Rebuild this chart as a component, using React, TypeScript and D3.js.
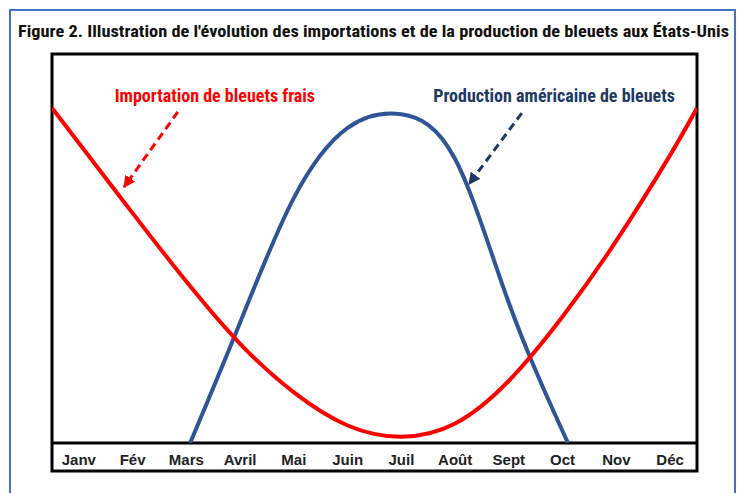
import * as d3 from "d3";

// Month labels along the bottom band
const months = ["Janv", "Fév", "Mars", "Avril", "Mai", "Juin", "Juil", "Août", "Sept", "Oct", "Nov", "Déc"];

// Imports of fresh blueberries (month position, relative level)
const importMonths = [-0.5, 0, 1, 2, 3, 4, 5, 6, 7, 8, 9, 10, 11, 11.5];
const importValues = [86.1, 77.1, 59.1, 41.5, 25.5, 13, 4.5, 1.6, 5, 16, 32.5, 52, 74, 86.1];

// US blueberry production
const prodMonths = [2.07, 3, 4, 5, 6, 7, 8, 9.1];
const prodValues = [0, 31, 63, 81, 84.5, 73, 36, 0];

const title =
  "Figure 2. Illustration de l'évolution des importations et de la production de bleuets aux États-Unis";

const W = 744;
const H = 493;
const plot = { left: 52, right: 697, top: 54, axis: 443, bottom: 471 };

const narrow = "'Liberation Sans Narrow', 'Arial Narrow', 'Roboto Condensed', 'Liberation Sans', sans-serif";
const RED = "#ff0000";
const BLUE = "#2f5597";
const NAVY = "#1f3864";

export default function App() {
  const x = d3.scaleLinear().domain([-0.5, 11.5]).range([plot.left, plot.right]);
  const y = d3.scaleLinear().domain([0, 100]).range([plot.axis, plot.top]);

  const line = d3
    .line<[number, number]>()
    .x((d) => x(d[0]))
    .y((d) => y(d[1]))
    .curve(d3.curveNatural);

  const importPts = importMonths.map((m, i) => [m, importValues[i]] as [number, number]);
  const prodPts = prodMonths.map((m, i) => [m, prodValues[i]] as [number, number]);

  // annotation arrows in chart units: [from, to]
  const redArrow = [[1.84, 85.1], [0.84, 65.8]];
  const blueArrow = [[8.24, 84.8], [7.26, 66.6]];

  const arrow = (pts: number[][], color: string, id: string) => (
    <line
      x1={x(pts[0][0])}
      y1={y(pts[0][1])}
      x2={x(pts[1][0])}
      y2={y(pts[1][1])}
      stroke={color}
      strokeWidth={3}
      strokeDasharray="8,5"
      markerEnd={`url(#${id})`}
    />
  );

  return (
    <svg width={W} height={H} style={{ position: "absolute", left: 0, top: 0, background: "#fff" }}>
      <defs>
        <clipPath id="plotclip">
          <rect x={plot.left} y={plot.top} width={plot.right - plot.left} height={plot.axis - plot.top} />
        </clipPath>
        <marker id="arrRed" viewBox="0 0 10 10" refX="9" refY="5" markerWidth="4" markerHeight="4" orient="auto" markerUnits="strokeWidth">
          <path d="M0,0 L10,5 L0,10 z" fill={RED} />
        </marker>
        <marker id="arrNavy" viewBox="0 0 10 10" refX="9" refY="5" markerWidth="4" markerHeight="4" orient="auto" markerUnits="strokeWidth">
          <path d="M0,0 L10,5 L0,10 z" fill={NAVY} />
        </marker>
      </defs>

      {/* outer frame */}
      <rect x={10} y={10} width={725} height={500} fill="none" stroke="#4472c4" strokeWidth={2} />

      <text
        x={18}
        y={37}
        fontFamily={narrow}
        fontWeight="bold"
        fontSize={17}
        fill="#111"
        textLength={711}
        lengthAdjust="spacingAndGlyphs"
      >
        {title}
      </text>

      {/* plot frame */}
      <rect
        x={plot.left}
        y={plot.top}
        width={plot.right - plot.left}
        height={plot.bottom - plot.top}
        fill="none"
        stroke="#000"
        strokeWidth={3}
      />
      <line x1={plot.left} x2={plot.right} y1={plot.axis} y2={plot.axis} stroke="#000" strokeWidth={3} />

      {months.map((m, i) => (
        <text
          key={m}
          x={x(i)}
          y={465}
          textAnchor="middle"
          fontFamily="'Liberation Sans', Arial, sans-serif"
          fontWeight="bold"
          fontSize={15}
          fill="#222"
        >
          {m}
        </text>
      ))}

      <g clipPath="url(#plotclip)">
        <path d={line(prodPts) ?? ""} fill="none" stroke={BLUE} strokeWidth={4} />
        <path d={line(importPts) ?? ""} fill="none" stroke={RED} strokeWidth={4} />
      </g>

      <text x={x(2.53)} y={y(87.7)} textAnchor="middle" fontFamily={narrow} fontWeight="bold" fontSize={18} fill={RED}>
        Importation de bleuets frais
      </text>
      <text x={x(8.84)} y={y(87.7)} textAnchor="middle" fontFamily={narrow} fontWeight="bold" fontSize={18} fill={NAVY}>
        Production américaine de bleuets
      </text>

      {arrow(redArrow, RED, "arrRed")}
      {arrow(blueArrow, NAVY, "arrNavy")}
    </svg>
  );
}
